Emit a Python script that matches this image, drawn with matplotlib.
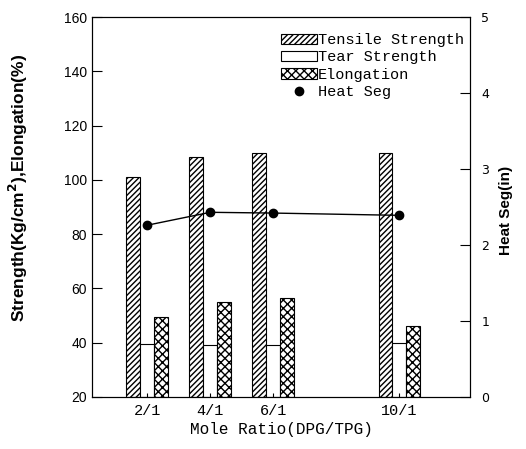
import matplotlib
matplotlib.use("Agg")
import matplotlib.pyplot as plt
from matplotlib.lines import Line2D
import numpy as np

# data
ratio_labels = ["2/1", "4/1", "6/1", "10/1"]
ratio_x = [2, 4, 6, 10]
tensile = [101, 108.5, 110, 110]
tear = [39.5, 39, 39, 40]
elongation = [49.5, 55, 56.5, 46]
heat_seg = [2.26, 2.43, 2.42, 2.39]

mono = "Liberation Mono"
sans = "Liberation Sans"

fig = plt.figure(figsize=(5.26, 4.49), dpi=100)
ax = fig.add_axes([0.175, 0.116, 0.719, 0.846])

w = 0.44
x = np.array(ratio_x, dtype=float)
b1 = ax.bar(x - w, np.array(tensile) - 20, w, bottom=20, color="white",
            edgecolor="black", hatch="//////", linewidth=0.8,
            label="Tensile Strength")
b2 = ax.bar(x, np.array(tear) - 20, w, bottom=20, color="white",
            edgecolor="black", linewidth=0.8, label="Tear Strength")
b3 = ax.bar(x + w, np.array(elongation) - 20, w, bottom=20, color="white",
            edgecolor="black", hatch="xxxx", linewidth=0.8,
            label="Elongation")

ax.set_xlim(0.25, 12.25)
ax.set_ylim(20, 160)
ax.set_yticks(range(20, 161, 20))
ax.set_xticks(ratio_x)
ax.set_xticklabels(ratio_labels, family=mono, fontsize=11)
ax.tick_params(axis="x", length=3, direction="in", pad=5)
ax.tick_params(axis="y", direction="in", length=7, labelsize=10)
for lab in ax.get_yticklabels():
    lab.set_family(sans)
ax.set_xlabel("Mole Ratio(DPG/TPG)", family=mono, fontsize=11.5,
              labelpad=3)
ax.set_ylabel("Strength(Kg/cm$^{\\mathbf{2}}$),Elongation(%)", family=sans,
              fontsize=12.5, fontweight="bold")
ax.yaxis.set_label_coords(-0.165, 0.55)

ax2 = ax.twinx()
ax2.plot(x, heat_seg, "-o", color="black", markersize=6, linewidth=1)
ax2.set_ylim(0, 5)
ax2.set_yticks(range(0, 6))
ax2.tick_params(axis="y", direction="in", length=7, labelsize=9, pad=8)
ax2.set_ylabel("Heat Seg(in)", family=sans, fontsize=11,
               fontweight="bold", rotation=90)
ax2.yaxis.set_label_coords(1.075, 0.49)

dot = Line2D([], [], linestyle="none", marker="o", color="black",
             markersize=6, label="Heat Seg")
leg = ax2.legend(handles=[b1, b2, b3, dot], loc="upper right",
                 bbox_to_anchor=(1.0, 0.974),
                 frameon=False, prop={"family": mono, "size": 11},
                 handlelength=2.35, handleheight=0.65, handletextpad=0.05,
                 labelspacing=0.22, borderaxespad=0)

fig.savefig("out.png", dpi=100)
